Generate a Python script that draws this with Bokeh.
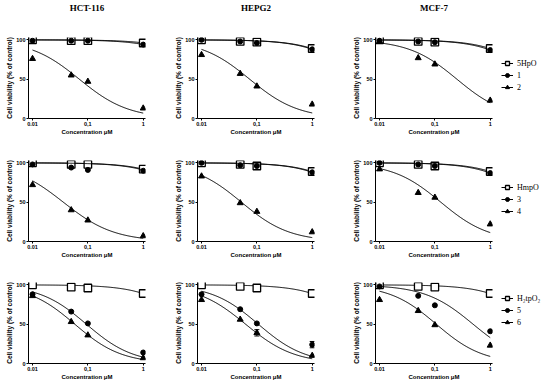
import numpy as np
from bokeh.plotting import figure
from bokeh.layouts import column, row
from bokeh.models import FixedTicker, Legend, LegendItem, Whisker, ColumnDataSource, TeeHead, Title
from bokeh.embed import file_html
from bokeh.resources import INLINE

# ---------------- data ----------------
conc = [0.01, 0.05, 0.1, 1.0]
cell_lines = ["HCT-116", "HEPG2", "MCF-7"]
legend_names = [["5HpO", "1", "2"], ["HmpO", "3", "4"], ["H\u2082tpO\u2082", "5", "6"]]
x_ticks = [0.01, 0.1, 1.0]
x_tick_labels = ["0.01", "0,1", "1"]
y_ticks = [0, 50, 100]

# row 1 : 5HpO, 1, 2
hct_5hpo = [100, 99, 99, 96]
hct_c1 = [99, 99, 99, 94]
hct_c2 = [76, 55, 47, 13]
hepg2_5hpo = [100, 98, 97, 89]
hepg2_c1 = [100, 98, 96, 88]
hepg2_c2 = [81, 57, 41, 18]
mcf7_5hpo = [100, 98, 97, 89]
mcf7_c1 = [99, 98, 97, 87]
mcf7_c2 = [98, 77, 69, 23]

# row 2 : HmpO, 3, 4
hct_hmpo = [100, 98, 98, 92]
hct_c3 = [98, 94, 91, 90]
hct_c4 = [72, 40, 27, 7]
hepg2_hmpo = [100, 98, 96, 89]
hepg2_c3 = [100, 97, 96, 88]
hepg2_c4 = [83, 49, 38, 12]
mcf7_hmpo = [100, 98, 96, 89]
mcf7_c3 = [100, 98, 96, 87]
mcf7_c4 = [92, 62, 56, 22]

# row 3 : H2tpO2, 5, 6
hct_h2tpo2 = [100, 97, 96, 89]
hct_c5 = [88, 66, 51, 14]
hct_c6 = [86, 53, 36, 7]
hepg2_h2tpo2 = [100, 98, 96, 89]
hepg2_c5 = [88, 69, 51, 24]
hepg2_c6 = [81, 56, 39, 10]
mcf7_h2tpo2 = [100, 98, 97, 89]
mcf7_c5 = [98, 86, 74, 41]
mcf7_c6 = [81, 67, 49, 23]

# error bars (only visible ones)
hepg2_c5_err = [0, 0, 0, 4]
hepg2_c6_err = [0, 0, 4, 0]

# fitted dose-response curves: (IC50 in uM, Hill slope)
fit_hct_5hpo, fit_hct_c1, fit_hct_c2 = (25, 1.0), (16, 1.0), (0.070, 0.98)
fit_hepg2_5hpo, fit_hepg2_c1, fit_hepg2_c2 = (8, 1.0), (7.3, 1.0), (0.074, 0.99)
fit_mcf7_5hpo, fit_mcf7_c1, fit_mcf7_c2 = (8, 1.0), (6.7, 1.0), (0.25, 1.0)
fit_hct_hmpo, fit_hct_c3, fit_hct_c4 = (11.5, 1.0), (10, 1.0), (0.036, 0.95)
fit_hepg2_hmpo, fit_hepg2_c3, fit_hepg2_c4 = (8, 1.0), (7.3, 1.0), (0.0525, 1.0)
fit_mcf7_hmpo, fit_mcf7_c3, fit_mcf7_c4 = (8, 1.0), (6.7, 1.0), (0.128, 1.0)
fit_hct_h2tpo2, fit_hct_c5, fit_hct_c6 = (8, 1.0), (0.094, 1.03), (0.058, 1.03)
fit_hepg2_h2tpo2, fit_hepg2_c5, fit_hepg2_c6 = (8, 1.0), (0.106, 1.03), (0.0625, 0.99)
fit_mcf7_h2tpo2, fit_mcf7_c5, fit_mcf7_c6 = (8, 1.0), (0.49, 1.0), (0.106, 1.03)

zeros = [0, 0, 0, 0]
panels = [
    [
        ((hct_5hpo, fit_hct_5hpo, zeros), (hct_c1, fit_hct_c1, zeros), (hct_c2, fit_hct_c2, zeros)),
        ((hepg2_5hpo, fit_hepg2_5hpo, zeros), (hepg2_c1, fit_hepg2_c1, zeros), (hepg2_c2, fit_hepg2_c2, zeros)),
        ((mcf7_5hpo, fit_mcf7_5hpo, zeros), (mcf7_c1, fit_mcf7_c1, zeros), (mcf7_c2, fit_mcf7_c2, zeros)),
    ],
    [
        ((hct_hmpo, fit_hct_hmpo, zeros), (hct_c3, fit_hct_c3, zeros), (hct_c4, fit_hct_c4, zeros)),
        ((hepg2_hmpo, fit_hepg2_hmpo, zeros), (hepg2_c3, fit_hepg2_c3, zeros), (hepg2_c4, fit_hepg2_c4, zeros)),
        ((mcf7_hmpo, fit_mcf7_hmpo, zeros), (mcf7_c3, fit_mcf7_c3, zeros), (mcf7_c4, fit_mcf7_c4, zeros)),
    ],
    [
        ((hct_h2tpo2, fit_hct_h2tpo2, zeros), (hct_c5, fit_hct_c5, zeros), (hct_c6, fit_hct_c6, zeros)),
        ((hepg2_h2tpo2, fit_hepg2_h2tpo2, zeros), (hepg2_c5, fit_hepg2_c5, hepg2_c5_err), (hepg2_c6, fit_hepg2_c6, hepg2_c6_err)),
        ((mcf7_h2tpo2, fit_mcf7_h2tpo2, zeros), (mcf7_c5, fit_mcf7_c5, zeros), (mcf7_c6, fit_mcf7_c6, zeros)),
    ],
]

# ---------------- layout / style ----------------
border_left = [28, 21, 21]
border_right = [27, 36, 52]
border_top = [5, 5, 5]
border_bottom = [37, 36, 18]
legend_offsets = [(9, 26), (9, 25), (9, 36)]

SANS = "Liberation Sans"
SERIF = "Liberation Serif"
curve_x = np.logspace(-2, 0, 150)


def make_panel(r, c):
    p = figure(x_axis_type="log", x_range=(0.00846, 1.1), y_range=(0, 103),
               frame_width=117, frame_height=81,
               min_border_left=border_left[c], min_border_right=border_right[c],
               min_border_top=border_top[r], min_border_bottom=border_bottom[r],
               output_backend="svg", toolbar_location=None, title=None)
    p.outline_line_color = None
    p.grid.visible = False
    p.background_fill_color = "white"
    if r == 0:
        # blank spacer between the frame and the column heading
        p.add_layout(Title(text=" ", text_font_size="10px", text_font=SERIF, standoff=12), "above")
        p.add_layout(Title(text=cell_lines[c], align="center", text_font=SERIF, standoff=0,
                           text_font_size="9px", text_font_style="bold", text_color="black"), "above")

    for ax in (p.xaxis[0], p.yaxis[0]):
        ax.axis_line_color = "black"
        ax.axis_line_width = 1
        ax.major_tick_line_color = "black"
        ax.major_tick_out = 2
        ax.major_tick_in = 0
        ax.minor_tick_line_color = None
        ax.major_label_text_font = SANS
        ax.major_label_text_font_size = "5.5px"
        ax.major_label_text_font_style = "bold"
        ax.major_label_text_color = "black"
        ax.major_label_standoff = 1
        ax.axis_label_text_font = SANS
        ax.axis_label_text_font_style = "bold"
        ax.axis_label_text_color = "black"
        ax.axis_label_standoff = 0
    p.xaxis.ticker = FixedTicker(ticks=x_ticks)
    p.xaxis.major_label_overrides = dict(zip(x_ticks, x_tick_labels))
    p.xaxis.axis_label = "Concentration \u03bcM"
    p.xaxis.axis_label_text_font_size = "6px"
    p.yaxis.ticker = FixedTicker(ticks=y_ticks)
    p.yaxis.axis_label = "Cell viability (% of control)"
    p.yaxis.axis_label_text_font_size = "6.5px"

    items = []
    markers = ["square", "circle", "triangle"]
    sizes = [7.5, 5, 6]
    for k, (vals, fit, err) in enumerate(panels[r][c]):
        ic50, hill = fit
        curve_y = 100.0 / (1.0 + (curve_x / ic50) ** hill)
        ln = p.line(curve_x, curve_y, line_color="black", line_width=1)
        e = np.array(err, dtype=float)
        v = np.array(vals, dtype=float)
        if e.any():
            m = e > 0
            src = ColumnDataSource(dict(x=np.array(conc)[m], lo=(v - e)[m], hi=(v + e)[m]))
            p.add_layout(Whisker(source=src, base="x", lower="lo", upper="hi",
                                 line_color="black", line_width=1,
                                 lower_head=TeeHead(size=5, line_color="black"),
                                 upper_head=TeeHead(size=5, line_color="black")))
        if k == 0:
            mk = p.scatter(conc, vals, marker="square", size=sizes[0], fill_color="white",
                           line_color="black", line_width=1.3)
        else:
            mk = p.scatter(conc, vals, marker=markers[k], size=sizes[k],
                           fill_color="black", line_color="black")
        items.append(LegendItem(label=legend_names[r][k], renderers=[ln, mk]))

    if c == 2:
        leg = Legend(items=items, location=legend_offsets[r],
                     glyph_width=12, glyph_height=10, label_height=10,
                     label_standoff=4, spacing=2, padding=3, margin=0,
                     border_line_color=None, background_fill_alpha=0,
                     label_text_font=SERIF, label_text_font_size="8px",
                     label_text_color="black")
        p.add_layout(leg, "right")
    return p


rows = [row(*[make_panel(r, c) for c in range(3)]) for r in range(3)]
layout = column(*rows)

open("out.html", "w").write(file_html(layout, INLINE))
